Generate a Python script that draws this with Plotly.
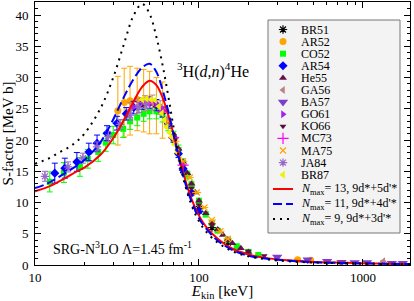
import plotly.graph_objects as go

# ---------------- data ----------------
# theory curves (E_kin in keV, S in MeV b)
E_n13 = [10, 12, 15, 18, 20, 25, 30, 35, 40, 45, 50, 55, 60, 65, 70, 75, 80, 90, 100, 110, 130, 160, 200, 260, 350, 500, 800, 1200, 1935]
S_n13 = [11.8, 12.5, 13.8, 15.0, 15.6, 17.6, 20.3, 23.3, 26.2, 28.5, 29.5, 28.8, 26.8, 24.0, 20.9, 17.8, 14.8, 10.6, 7.9, 6.2, 4.2, 2.6, 1.7, 1.1, 0.75, 0.5, 0.35, 0.25, 0.18]
E_n11 = [10, 12, 15, 18, 20, 25, 30, 35, 40, 45, 50, 55, 60, 65, 70, 75, 80, 90, 100, 110, 130, 160, 200, 260, 350, 500, 800, 1200, 1935]
S_n11 = [12.3, 13.1, 14.6, 15.9, 16.8, 19.6, 23.3, 27.0, 29.8, 31.6, 32.2, 30.9, 28.0, 24.6, 20.8, 17.4, 14.3, 10.2, 7.5, 5.9, 3.9, 2.4, 1.5, 1.0, 0.7, 0.45, 0.3, 0.22, 0.15]
E_n9 = [10, 12, 14, 16, 18, 20, 25, 30, 35, 40, 45, 50, 55, 60, 65, 70, 75, 80, 90, 100, 110, 130, 160, 200, 260, 350, 500, 800, 1200, 1935]
S_n9 = [16.2, 17.0, 18.0, 18.8, 19.8, 21.0, 25.0, 30.0, 35.5, 40.0, 41.8, 40.2, 36.5, 32.0, 27.0, 22.0, 17.5, 14.0, 9.6, 7.0, 5.4, 3.6, 2.2, 1.4, 0.9, 0.6, 0.4, 0.26, 0.18, 0.12]

# experimental data
BR51_E = [80, 100, 120, 150]
BR51_S = [15.2, 9.0, 6.0, 3.6]

AR52_E = [32, 35, 38, 42, 46, 50, 55, 60, 400, 480]
AR52_S = [24.7, 26.0, 26.3, 26.5, 26.3, 26.0, 25.5, 24.8, 0.85, 0.75]
AR52_err = [5.5, 5.5, 5.5, 5.0, 5.0, 5.0, 4.5, 4.5, 0.1, 0.1]

CO52_E = [12.3, 15, 18.8, 21, 24.3, 27, 30, 34.5, 38, 42, 46, 50, 55, 60, 65, 70, 75, 80, 85, 90, 100, 110, 120, 130, 150, 170, 200, 230]
CO52_S = [13.3, 14.8, 15.7, 17.0, 18.1, 19.6, 20.8, 21.8, 23.0, 23.6, 24.2, 24.6, 24.6, 24.0, 22.5, 20.5, 18.4, 16.3, 14.4, 12.8, 10.2, 8.1, 6.7, 5.5, 4.0, 3.0, 2.1, 1.6]
CO52_err = [1.6, 1.6, 1.5, 1.5, 1.5, 1.4, 1.4, 1.4, 1.3, 1.3, 1.2, 1.2, 1.2, 1.1, 1.0, 0.9, 0.8, 0.7, 0.6, 0.6, 0.5, 0.4, 0.3, 0.3, 0.2, 0.2, 0.1, 0.1]

AR54_E = [13.2, 15.2, 18, 21.3, 23.9, 27.5, 31.6, 36, 40, 45, 50, 55, 60, 65, 70, 75, 80, 90, 100]
AR54_S = [14.7, 15.5, 16.5, 18.1, 19.5, 21.1, 22.7, 24.2, 25.2, 25.8, 26.0, 25.6, 24.5, 22.6, 20.3, 17.8, 15.4, 11.5, 8.6]
AR54_err = [1.6, 1.6, 1.5, 1.4, 1.3, 1.2, 1.1, 1.0, 1.0, 0.9, 0.9, 0.9, 0.8, 0.7, 0.6, 0.6, 0.5, 0.4, 0.3]

He55_E = [45, 50, 55, 60, 65, 70, 75, 80, 85, 90, 95, 100, 110, 120, 130, 140, 150, 160, 180, 200]
He55_S = [25.5, 25.8, 25.5, 24.5, 22.8, 20.8, 18.6, 16.5, 14.7, 13.0, 11.6, 10.3, 8.3, 6.8, 5.7, 4.8, 4.1, 3.5, 2.7, 2.1]

GA56_E = [38, 42, 47, 52, 58, 64, 1330]
GA56_S = [24.8, 25.4, 25.9, 26.0, 25.2, 23.4, 0.6]
GA56_err = [1.2, 1.2, 1.2, 1.2, 1.1, 1.0, 0.05]

BA57_E = [300, 460, 605, 740, 890, 1060, 1500, 1750]
BA57_S = [1.3, 0.85, 0.6, 0.45, 0.42, 0.4, 0.3, 0.3]

GO61_E = [40, 45, 50, 55, 60]
GO61_S = [25.3, 26.0, 26.2, 25.8, 24.8]

KO66_E = [70, 80, 90, 100, 120, 150, 200, 250]
KO66_S = [19.8, 15.8, 12.3, 9.6, 6.4, 3.9, 2.2, 1.5]

MC73_E = [50, 60, 70, 80]
MC73_S = [26.0, 24.6, 20.4, 16.0]

MA75_E = [65, 72, 80, 88, 97, 108, 120, 135, 150]
MA75_S = [23.0, 19.8, 16.6, 14.0, 11.6, 9.2, 7.2, 5.4, 4.2]
MA75_errx = [4, 4, 5, 5, 6, 6, 7, 8, 9]

JA84_E = [11.5, 15.9, 19.6, 23.9, 28, 33, 38, 43, 48]
JA84_S = [14.2, 15.7, 17.1, 18.9, 20.6, 22.5, 24.0, 25.2, 25.8]
JA84_err = [0.8, 0.8, 0.8, 0.8, 0.8, 0.8, 0.8, 0.8, 0.8]

BR87_E = [45, 48, 51, 54, 57, 59.4, 61.5, 63.6, 66, 68, 71, 74, 77]
BR87_S = [26.5, 26.6, 26.5, 26.4, 25.4, 24.3, 23.2, 22.1, 21.2, 20.5, 19.3, 18.0, 16.8]

x_tickvals = [10, 100, 1000]
x_ticktext = ["10", "100", "1000"]
y_tickvals = [0, 5, 10, 15, 20, 25, 30, 35, 40]

# ---------------- styling ----------------
FONT = "Liberation Serif"
W, H = 414, 301
ML, MR, MT, MB = 35, 4, 2, 36

series = [
    ("BR51", BR51_E, BR51_S, None, None, "asterisk-open", "black", 7),
    ("AR52", AR52_E, AR52_S, AR52_err, None, "circle", "#FFA500", 7),
    ("CO52", CO52_E, CO52_S, CO52_err, None, "square", "#00FF00", 6),
    ("AR54", AR54_E, AR54_S, AR54_err, None, "diamond", "#0000FF", 7),
    ("He55", He55_E, He55_S, None, None, "triangle-up", "#66104A", 7),
    ("GA56", GA56_E, GA56_S, GA56_err, None, "triangle-left", "#C08080", 7),
    ("BA57", BA57_E, BA57_S, None, None, "triangle-down", "#7A3FCB", 9),
    ("GO61", GO61_E, GO61_S, None, None, "triangle-right", "#A020F0", 7),
    ("KO66", KO66_E, KO66_S, None, None, "triangle-down", "#5C0F3C", 6),
    ("MC73", MC73_E, MC73_S, None, None, "cross-thin-open", "#FF00FF", 8),
    ("MA75", MA75_E, MA75_S, None, MA75_errx, "x-thin-open", "#FFA500", 6),
    ("JA84", JA84_E, JA84_S, JA84_err, None, "asterisk-open", "#9966CC", 7),
    ("BR87", BR87_E, BR87_S, None, None, "triangle-left", "#F0F000", 7),
]

curves = [
    ("<i>N</i><sub>max</sub>= 13, 9d*+5d'*", E_n13, S_n13, "#FF0000", "solid"),
    ("<i>N</i><sub>max</sub>= 11, 9d*+4d'*", E_n11, S_n11, "#0000FF", "9px,4px"),
    ("<i>N</i><sub>max</sub>= 9, 9d*+3d'*", E_n9, S_n9, "#000000", "2px,5px"),
]

fig = go.Figure()

for name, ex, sy, err, errx, sym, col, size in series:
    is_open = sym.endswith("-open")
    marker = dict(symbol=sym, size=size, color=col,
                  line=dict(color=col, width=1.2 if is_open else 0))
    tr = dict(x=ex, y=sy, mode="markers", marker=marker, showlegend=False, name=name)
    if err is not None:
        tr["error_y"] = dict(type="data", array=err, color=col, thickness=1, width=3)
    if errx is not None:
        tr["error_x"] = dict(type="data", array=errx, color=col, thickness=1, width=0)
    fig.add_trace(go.Scatter(**tr))

for name, ex, sy, col, dash in curves:
    fig.add_trace(go.Scatter(x=ex, y=sy, mode="lines", line=dict(color=col, width=2, dash=dash, shape="spline"),
                             showlegend=False, name=name))

# ---------------- custom legend (pixel coordinates via overlay axes) ----------------
LX0, LX1, LY0, LY1 = 268, 400, 20, 233
sym_x = 283
txt_x = 299
row0, drow = 29.5, 12.1
line_row0, dline = 189, 15

fig.add_shape(type="rect", xref="x2", yref="y2", x0=LX0, x1=LX1, y0=LY0, y1=LY1,
              line=dict(color="#777777", width=1), fillcolor="#F3F3F3", layer="below")

for i, (name, ex, sy, err, errx, sym, col, size) in enumerate(series):
    yy = row0 + i * drow
    is_open = sym.endswith("-open")
    fig.add_trace(go.Scatter(x=[sym_x], y=[yy], xaxis="x2", yaxis="y2", mode="markers",
                             marker=dict(symbol=sym, size=size, color=col,
                                         line=dict(color=col, width=1.2 if is_open else 0)),
                             showlegend=False, hoverinfo="skip"))
    fig.add_annotation(x=txt_x, y=yy, xref="x2", yref="y2", text=name, showarrow=False,
                       xanchor="left", yanchor="middle", font=dict(family=FONT, size=12, color="black"))

for j, (name, ex, sy, col, dash) in enumerate(curves):
    yy = line_row0 + j * dline
    fig.add_trace(go.Scatter(x=[273, 293], y=[yy, yy], xaxis="x2", yaxis="y2", mode="lines",
                             line=dict(color=col, width=2, dash=dash), showlegend=False, hoverinfo="skip"))
    fig.add_annotation(x=txt_x, y=yy, xref="x2", yref="y2", text=name, showarrow=False,
                       xanchor="left", yanchor="middle", font=dict(family=FONT, size=12, color="black"))

# other text
fig.add_annotation(x=213, y=70, xref="x2", yref="y2", showarrow=False,
                   text="<sup>3</sup>H(<i>d</i>,<i>n</i>)<sup>4</sup>He",
                   xanchor="center", yanchor="middle", font=dict(family=FONT, size=16, color="black"))
fig.add_annotation(x=51, y=248, xref="x2", yref="y2", showarrow=False,
                   text="SRG-N<sup>3</sup>LO Λ=1.45 fm<sup>-1</sup>",
                   xanchor="left", yanchor="middle", font=dict(family=FONT, size=14, color="black"))

minor_x = [20, 30, 40, 50, 60, 70, 80, 90, 200, 300, 400, 500, 600, 700, 800, 900]

fig.update_layout(
    width=W, height=H,
    margin=dict(l=ML, r=MR, t=MT, b=MB, pad=0),
    paper_bgcolor="white", plot_bgcolor="white",
    font=dict(family=FONT, size=13, color="black"),
    showlegend=False,
    xaxis=dict(type="log", range=[1, 3.287], showgrid=False, zeroline=False,
               tickmode="array", tickvals=x_tickvals, ticktext=x_ticktext,
               ticks="inside", ticklen=6, tickwidth=1, tickcolor="black",
               showline=True, linecolor="black", linewidth=1, mirror="ticks",
               minor=dict(tickmode="array", tickvals=minor_x, ticks="inside", ticklen=3,
                          tickwidth=1, tickcolor="black", showgrid=False),
               tickfont=dict(family=FONT, size=13),
               title=dict(text="<i>E</i><sub>kin</sub> [keV]", font=dict(family=FONT, size=15), standoff=1)),
    yaxis=dict(range=[0, 42.1], showgrid=False, zeroline=False,
               tickmode="array", tickvals=y_tickvals,
               ticks="inside", ticklen=6, tickwidth=1, tickcolor="black",
               showline=True, linecolor="black", linewidth=1, mirror="ticks",
               minor=dict(dtick=1, ticks="inside", ticklen=3, tickwidth=1, tickcolor="black", showgrid=False),
               tickfont=dict(family=FONT, size=13), ticklabelstandoff=3,
               title=dict(text="S-factor [MeV b]", font=dict(family=FONT, size=15), standoff=2)),
    xaxis2=dict(overlaying="x", range=[ML, W - MR], visible=False, fixedrange=True),
    yaxis2=dict(overlaying="y", range=[H - MB, MT], visible=False, fixedrange=True),
)

fig.write_html("out.html", config={"displayModeBar": False},
               post_script="document.body.style.margin='0px';document.body.style.padding='0px';")
